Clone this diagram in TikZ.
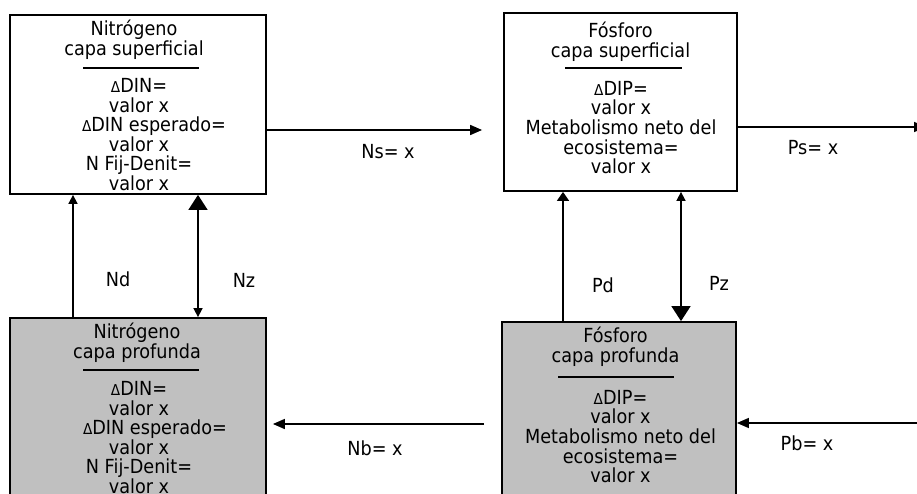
\documentclass[tikz,border=0pt]{standalone}
\usepackage{fontspec}
\setmainfont{DejaVu Sans}[FakeStretch=0.91]
\usetikzlibrary{arrows.meta}
\definecolor{boxgray}{RGB}{192,192,192}
\newcommand{\dlt}{{\fontsize{15}{15}\selectfont Δ}}
\begin{document}
\begin{tikzpicture}[x=1pt,y=-1pt,
  box/.style={draw, line width=1.8pt, inner sep=0pt},
  deep/.style={box, fill=boxgray},
  txt/.style={align=center, font=\fontsize{19.4}{19.6}\selectfont, inner sep=0pt},
  lbl/.style={font=\fontsize{19.4}{19.6}\selectfont, inner sep=0pt},
  divline/.style={line width=1.2pt},
  con/.style={line width=1.6pt},
  tipS/.tip={Triangle[width=9pt,length=9pt]},
  tipH/.tip={Triangle[width=10pt,length=12pt]},
  tipB/.tip={Triangle[width=19pt,length=15pt]}
]
\useasboundingbox (0,0) rectangle (917,494);
\clip (0,0) rectangle (917,494);

% boxes
\node[box, minimum width=256pt, minimum height=179pt] (nsurf) at (138,104.5) {};
\node[box, minimum width=233pt, minimum height=178pt] (psurf) at (620.5,102) {};
\node[deep, minimum width=256pt, minimum height=202pt] (ndeep) at (138,419) {};
\node[deep, minimum width=234pt, minimum height=198pt] (pdeep) at (619,421) {};

% texts: nitrogen surface
\node[txt] (nsT) at (134,40) {Nitrógeno\\capa superficial};
\draw[divline] (83,68) -- (199,68);
\node[txt] (nsB) at (139,134.5) {\dlt DIN=\\valor x\\\hspace*{30pt}\dlt DIN esperado=\\valor x\\N Fij-Denit=\\valor x};

% phosphorus surface
\node[txt] (psT) at (620.5,42) {Fósforo\\capa superficial};
\draw[divline] (565,68) -- (682,68);
\node[txt] (psB) at (621,127.5) {\dlt DIP=\\valor x\\Metabolismo neto del\\ecosistema=\\valor x};

% nitrogen deep
\node[txt] (ndT) at (137,342.5) {Nitrógeno\\capa profunda};
\draw[divline] (83,370) -- (199,370);
\node[txt] (ndB) at (139,437.5) {\dlt DIN=\\valor x\\\hspace*{32pt}\dlt DIN esperado=\\valor x\\N Fij-Denit=\\valor x};

% phosphorus deep
\node[txt] (pdT) at (615.5,346.5) {Fósforo\\capa profunda};
\draw[divline] (558,377) -- (674,377);
\node[txt] (pdB) at (620.5,436.5) {\dlt DIP=\\valor x\\Metabolismo neto del\\ecosistema=\\valor x};

% reference coordinates
\coordinate (xNd) at (73,0);
\coordinate (xNz) at (198,0);
\coordinate (xPd) at (563,0);
\coordinate (xPz) at (681,0);
\coordinate (yNs) at (0,130);
\coordinate (yPs) at (0,127);
\coordinate (yNb) at (0,424);
\coordinate (yPb) at (0,423);
\coordinate (psEnd) at (926,127);
\coordinate (pbStart) at (920,423);

% vertical connectors
\draw[con, -tipS] (ndeep.north -| xNd) -- (nsurf.south -| xNd);
\draw[con, tipS-tipB] (ndeep.north -| xNz) -- (nsurf.south -| xNz);
\draw[con, -{Triangle[width=12pt,length=9pt]}] (pdeep.north -| xPd) -- (psurf.south -| xPd);
\draw[con, tipS-tipB] (psurf.south -| xPz) -- (pdeep.north -| xPz);

% horizontal connectors
\draw[con, -tipH, shorten >=21pt] (nsurf.east |- yNs) -- (psurf.west |- yNs);
\draw[con, -tipH] (psurf.east |- yPs) -- (psEnd);
\draw[con, -tipH, shorten <=17pt, shorten >=6pt] (pdeep.west |- yNb) -- (ndeep.east |- yNb);
\draw[con, -tipH] (pbStart) -- (pdeep.east |- yPb);

% labels
\node[lbl] (lNs) at (388,152) {Ns= x};
\node[lbl] (lPs) at (813,148) {Ps= x};
\node[lbl] (lNd) at (118,279) {Nd};
\node[lbl] (lNz) at (244,280) {Nz};
\node[lbl] (lPd) at (603,285) {Pd};
\node[lbl] (lPz) at (719,283) {Pz};
\node[lbl] (lNb) at (375,448) {Nb= x};
\node[lbl] (lPb) at (807,443) {Pb= x};
\end{tikzpicture}
\end{document}
